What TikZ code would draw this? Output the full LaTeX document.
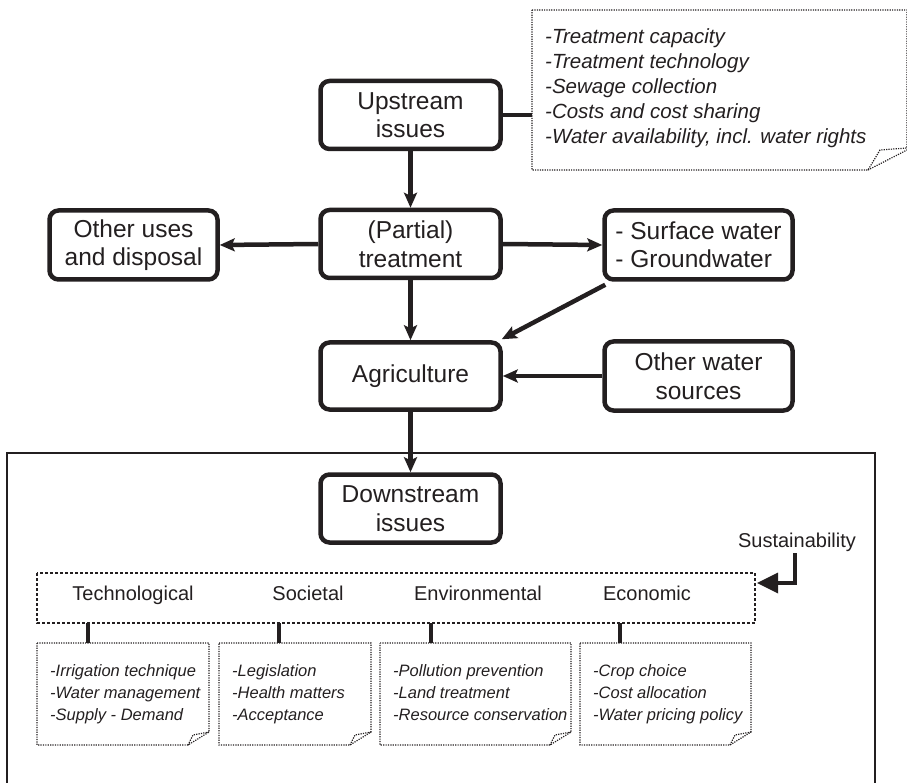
\documentclass[tikz,border=0pt]{standalone}
\usepackage{fontspec}
\setmainfont{Liberation Sans}
\usetikzlibrary{arrows.meta}
\definecolor{ink}{HTML}{231F20}
\begin{document}
\begin{tikzpicture}[x=1pt,y=-1pt,
  box/.style={draw=ink,line width=4.5pt,rounded corners=9pt,inner sep=0pt,
    align=center,font=\fontsize{24.5}{28.5}\selectfont,text=ink},
  arr/.style={draw=ink,line width=4.5pt,-{Stealth[length=15pt,width=13pt,inset=3pt]}},
  notetxt/.style={anchor=north west,align=left,inner sep=0pt,text=ink,
    font=\fontsize{16.5}{22}\selectfont\itshape},
  bignotetxt/.style={anchor=north west,align=left,inner sep=0pt,text=ink,
    font=\fontsize{20.5}{25}\selectfont\itshape},
  ndot/.style={draw=ink,line width=1.2pt,dash pattern=on 1.2pt off 1.2pt},
  cat/.style={text=ink,font=\fontsize{20}{24}\selectfont,inner sep=0pt,anchor=base},
  tick/.style={draw=ink,line width=4pt}]
\useasboundingbox (0,0) rectangle (907,783);

% main boxes
\node[box,minimum width=180pt,minimum height=68pt] (up) at (410.5,115) {Upstream\\issues};
\node[box,minimum width=180pt,minimum height=68pt] (part) at (410.5,244) {(Partial)\\treatment};
\node[box,minimum width=168pt,minimum height=69pt] (other) at (133.5,245) {Other uses\\and disposal};
\node[box,minimum width=188pt,minimum height=69pt,align=left] (surf) at (698.5,245) {- Surface water\\- Groundwater};
\node[box,minimum width=180pt,minimum height=67pt] (agri) at (410.5,376) {Agriculture};
\node[box,minimum width=188pt,minimum height=69pt] (ows) at (698.5,376) {Other water\\sources};
\node[box,minimum width=180pt,minimum height=68pt] (down) at (410.5,508.5) {Downstream\\issues};

% upstream note
\draw[ndot] (532,10) -- (907,10) -- (907,148) -- (880,150) -- (868,170) -- (532,170) -- cycle;
\draw[ndot] (868,170) -- (907,150);
\coordinate (upnote) at (532,115);
\node[bignotetxt] (upn) at (545,28) {-Treatment capacity\\-Treatment technology\\-Sewage collection\\-Costs and cost sharing\\-Water availability, incl. water rights};
\draw[draw=ink,line width=4.5pt] (up.east) -- (upnote);

% arrows
\draw[arr] (up.south) -- (part.north);
\draw[arr] (part.west) -- (other.east);
\draw[arr] (part.east) -- (surf.west);
\draw[arr] (part.south) -- (agri.north);
\draw[arr] ([xshift=3pt,yshift=-3pt]surf.south west) -- ([xshift=-1pt,yshift=1pt]agri.north east);
\draw[arr] (ows.west) -- (agri.east);
\draw[arr] (agri.south) -- (down.north);

% frame
\draw[draw=ink,line width=1.5pt] (7,790) -- (7,453) -- (875,453) -- (875,790);

% dimension box
\draw[draw=ink,line width=2.6pt,dash pattern=on 2.6pt off 2.4pt] (37,573) rectangle (755,623);
\coordinate (dimtip) at (757,583);
\node[cat] (tech) at (133,600) {Technological};
\node[cat] (soc) at (308,600) {Societal};
\node[cat] (env) at (478,600) {Environmental};
\node[cat] (eco) at (647,600) {Economic};
\node[cat] (sus) at (797,547) {Sustainability};
\draw[draw=ink,line width=3.5pt,-{Triangle[length=21pt,width=20pt]}] (795,553) |- (dimtip);

% bottom notes
\newcommand{\notebox}[2]{%
  \draw[ndot] (#1,643) -- (#2,643) -- (#2,732) -- (#2-21,745) -- (#1,745) -- cycle;
  \draw[ndot] (#2-21,745) -- (#2-16,735) -- (#2,732);
}
\notebox{37}{209}
\notebox{219}{371}
\notebox{380}{571}
\notebox{580}{751}
\node[notetxt] (n1) at (50,664) {-Irrigation technique\\-Water management\\-Supply - Demand};
\node[notetxt] (n2) at (232,664) {-Legislation\\-Health matters\\-Acceptance};
\node[notetxt] (n3) at (393,664) {-Pollution prevention\\-Land treatment\\-Resource conservation};
\node[notetxt] (n4) at (593,664) {-Crop choice\\-Cost allocation\\-Water pricing policy};

\draw[tick] (88,623) -- (88,643);
\draw[tick] (279,623) -- (279,643);
\draw[tick] (431,623) -- (431,643);
\draw[tick] (620,623) -- (620,643);
\end{tikzpicture}
\end{document}
